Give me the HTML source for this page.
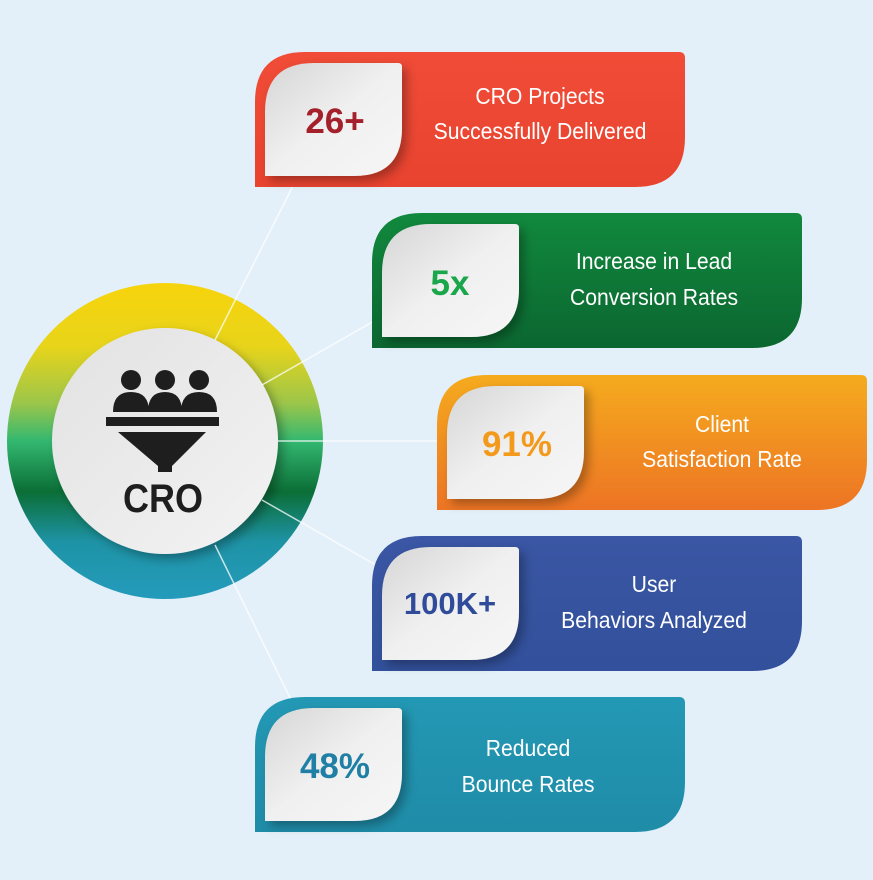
<!DOCTYPE html>
<html><head><meta charset="utf-8"><style>
html,body{margin:0;padding:0;background:#e4f0f9;}
svg{display:block}
text{font-family:"Liberation Sans",sans-serif;}
</style></head><body>
<svg width="873" height="880" viewBox="0 0 873 880" xmlns="http://www.w3.org/2000/svg">
<defs>
<linearGradient id="ring" x1="0" y1="0" x2="0" y2="1">
<stop offset="0" stop-color="#f7d40c"/><stop offset="0.2" stop-color="#e8d41a"/>
<stop offset="0.38" stop-color="#9cc64a"/><stop offset="0.5" stop-color="#33b870"/>
<stop offset="0.66" stop-color="#0b6e36"/><stop offset="0.82" stop-color="#1e93a6"/>
<stop offset="1" stop-color="#249bbb"/></linearGradient>
<linearGradient id="inner" x1="0" y1="0" x2="1" y2="1"><stop offset="0" stop-color="#e2e2e2"/><stop offset="1" stop-color="#f3f3f3"/></linearGradient>
<linearGradient id="leaf" x1="0" y1="0" x2="1" y2="1"><stop offset="0" stop-color="#d6d6d6"/><stop offset="0.5" stop-color="#f0f0f0"/><stop offset="1" stop-color="#f6f6f6"/></linearGradient>
<linearGradient id="gR" x1="0" y1="0" x2="0" y2="1"><stop offset="0" stop-color="#f04c37"/><stop offset="1" stop-color="#e8432f"/></linearGradient>
<linearGradient id="gG" x1="0" y1="0" x2="0" y2="1"><stop offset="0" stop-color="#11893d"/><stop offset="1" stop-color="#0b6630"/></linearGradient>
<linearGradient id="gO" x1="0" y1="0" x2="0" y2="1"><stop offset="0" stop-color="#f5ab1e"/><stop offset="1" stop-color="#ed7424"/></linearGradient>
<linearGradient id="gB" x1="0" y1="0" x2="0" y2="1"><stop offset="0" stop-color="#3a56a4"/><stop offset="1" stop-color="#32509b"/></linearGradient>
<linearGradient id="gT" x1="0" y1="0" x2="0" y2="1"><stop offset="0" stop-color="#2398b4"/><stop offset="1" stop-color="#1f8ca8"/></linearGradient>
<filter id="sh" x="-20%" y="-20%" width="150%" height="150%"><feDropShadow dx="5" dy="5" stdDeviation="5" flood-color="#000" flood-opacity="0.3"/></filter>
<path id="card" d="M0,135 L0,50 Q0,0 50,0 L424,0 Q430,0 430,6 L430,85 Q430,135 380,135 Z"/>
<path id="lf" d="M10,124 L10,60 Q10,11 59,11 L143,11 Q147,11 147,15 L147,76 Q147,124 99,124 Z"/>
</defs>

<circle cx="165" cy="441" r="158" fill="url(#ring)"/>
<circle cx="165" cy="441" r="113" fill="url(#inner)" filter="url(#sh)"/>

<g stroke="#ffffff" stroke-opacity="0.75" stroke-width="1.5">
<line x1="215" y1="340" x2="297" y2="178"/>
<line x1="262" y1="385" x2="388" y2="313"/>
<line x1="278" y1="441" x2="450" y2="441"/>
<line x1="262" y1="500" x2="388" y2="572"/>
<line x1="215" y1="545" x2="297" y2="712"/>
</g>

<g fill="#1e1e1e">
<circle cx="131" cy="380" r="10"/><circle cx="165" cy="380" r="10"/><circle cx="199" cy="380" r="10"/>
<path d="M113,412 Q113,392 131,392 Q149,392 149,412 Z"/>
<path d="M148,412 Q148,392 165,392 Q182,392 182,412 Z"/>
<path d="M181,412 Q181,392 199,392 Q217,392 217,412 Z"/>
<rect x="106" y="417" width="113" height="9"/>
<path d="M118,432 L206,432 L172,466 L172,472 L158,472 L158,466 Z"/>
</g>
<text x="163" y="512" font-size="40" font-weight="bold" text-anchor="middle" fill="#1e1e1e" transform="translate(163 0) scale(0.9 1) translate(-163 0)">CRO</text>

<g transform="translate(255,52)">
<use href="#card" fill="url(#gR)"/><use href="#lf" fill="url(#leaf)" filter="url(#sh)"/>
<text x="80" y="81" font-size="35" font-weight="bold" text-anchor="middle" fill="#a4202a">26+</text>
<g transform="translate(285 0) scale(0.92 1)">
<text x="0" y="52" font-size="23" text-anchor="middle" fill="#fff">CRO Projects</text>
<text x="0" y="87" font-size="23" text-anchor="middle" fill="#fff">Successfully Delivered</text></g>
</g>
<g transform="translate(372,213)">
<use href="#card" fill="url(#gG)"/><use href="#lf" fill="url(#leaf)" filter="url(#sh)"/>
<text x="78" y="82" font-size="35" font-weight="bold" text-anchor="middle" fill="#1aa64a">5x</text>
<g transform="translate(282 0) scale(0.92 1)">
<text x="0" y="56" font-size="23" text-anchor="middle" fill="#fff">Increase in Lead</text>
<text x="0" y="92" font-size="23" text-anchor="middle" fill="#fff">Conversion Rates</text></g>
</g>
<g transform="translate(437,375)">
<use href="#card" fill="url(#gO)"/><use href="#lf" fill="url(#leaf)" filter="url(#sh)"/>
<text x="80" y="81" font-size="35" font-weight="bold" text-anchor="middle" fill="#f39a1c">91%</text>
<g transform="translate(285 0) scale(0.92 1)">
<text x="0" y="57" font-size="23" text-anchor="middle" fill="#fff">Client</text>
<text x="0" y="92" font-size="23" text-anchor="middle" fill="#fff">Satisfaction Rate</text></g>
</g>
<g transform="translate(372,536)">
<use href="#card" fill="url(#gB)"/><use href="#lf" fill="url(#leaf)" filter="url(#sh)"/>
<text x="78" y="78" font-size="31" font-weight="bold" text-anchor="middle" fill="#2f4b9a">100K+</text>
<g transform="translate(282 0) scale(0.92 1)">
<text x="0" y="56" font-size="23" text-anchor="middle" fill="#fff">User</text>
<text x="0" y="92" font-size="23" text-anchor="middle" fill="#fff">Behaviors Analyzed</text></g>
</g>
<g transform="translate(255,697)">
<use href="#card" fill="url(#gT)"/><use href="#lf" fill="url(#leaf)" filter="url(#sh)"/>
<text x="80" y="81" font-size="35" font-weight="bold" text-anchor="middle" fill="#1f7fa4">48%</text>
<g transform="translate(273 0) scale(0.92 1)">
<text x="0" y="59" font-size="23" text-anchor="middle" fill="#fff">Reduced</text>
<text x="0" y="95" font-size="23" text-anchor="middle" fill="#fff">Bounce Rates</text></g>
</g>
</svg>
</body></html>
